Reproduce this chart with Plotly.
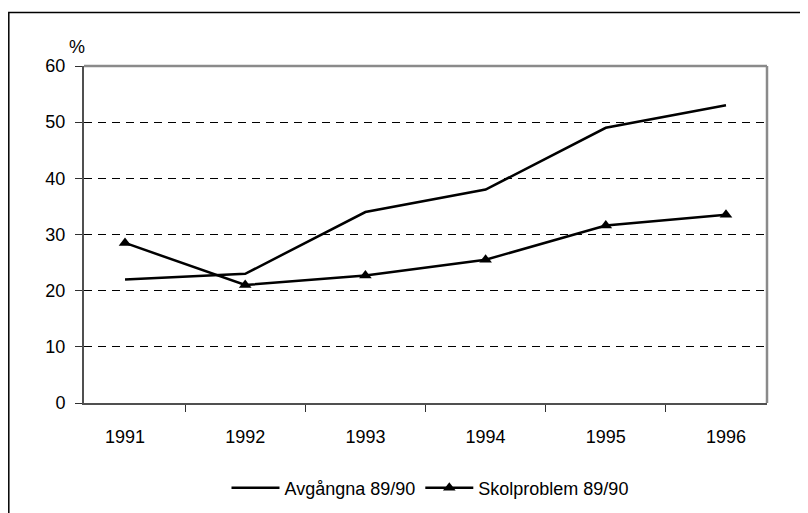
import plotly.graph_objects as go

years = ["1991", "1992", "1993", "1994", "1995", "1996"]
avgangna = [22.0, 23.0, 34.0, 38.0, 49.0, 53.0]
skolproblem = [28.5, 21.0, 22.7, 25.5, 31.6, 33.5]
y_ticks = [0, 10, 20, 30, 40, 50, 60]

FONT = "Liberation Sans, Arial, sans-serif"
FS = 18

fig = go.Figure()
fig.add_trace(go.Scatter(x=years, y=avgangna, name="Avgångna 89/90", mode="lines",
                         line=dict(color="black", width=2.5)))
fig.add_trace(go.Scatter(x=years, y=skolproblem, name="Skolproblem 89/90", mode="lines+markers",
                         line=dict(color="black", width=2.5),
                         marker=dict(symbol="triangle-up", size=11, color="black")))

# page has an 8px body margin; figure coordinates are page - 8
W, H = 800, 505
L, R, T, B = 76, 41, 58, 110
pw, ph = W - L - R, H - T - B

fig.update_layout(
    width=W, height=H,
    margin=dict(l=L, r=R, t=T, b=B, autoexpand=False),
    paper_bgcolor="white", plot_bgcolor="white",
    font=dict(family=FONT, size=FS, color="black"),
    showlegend=True,
    legend=dict(orientation="h", x=(422 - L) / pw, xanchor="center",
                y=(H - B - 480) / ph, yanchor="middle", itemwidth=48,
                font=dict(size=FS), bgcolor="rgba(0,0,0,0)"),
    xaxis=dict(type="category", showline=True, linecolor="#505050", linewidth=2,
               ticks="outside", tickson="boundaries", ticklen=7, tickcolor="#303030",
               showgrid=False, ticklabelstandoff=16, tickfont=dict(size=FS),
               fixedrange=True, automargin=False),
    yaxis=dict(range=[0, 60], tickvals=y_ticks, showline=True, linecolor="#505050", linewidth=2,
               ticks="outside", ticklen=7, tickcolor="#303030",
               showgrid=True, gridcolor="black", gridwidth=1, griddash="8px,6px",
               zeroline=False, ticklabelstandoff=6, tickfont=dict(size=FS), automargin=False),
    shapes=[
        dict(type="line", xref="paper", yref="paper", x0=0, x1=1, y0=1, y1=1,
             line=dict(color="#8a8a8a", width=2.5), layer="above"),
        dict(type="line", xref="paper", yref="paper", x0=1, x1=1, y0=0, y1=1,
             line=dict(color="#8a8a8a", width=2.5), layer="above"),
        dict(type="rect", xref="paper", yref="paper",
             x0=(0.8 - L) / pw, x1=(W + 20 - L) / pw,
             y0=(H - B - (H + 20)) / ph, y1=(H - B - 4.5) / ph,
             line=dict(color="black", width=1.5), layer="above"),
    ],
    annotations=[
        dict(text="%", xref="paper", yref="paper", x=(69 - L) / pw, y=(H - B - 39) / ph,
             xanchor="center", yanchor="middle", showarrow=False, font=dict(size=FS)),
    ],
)

fig.write_html("out.html")
